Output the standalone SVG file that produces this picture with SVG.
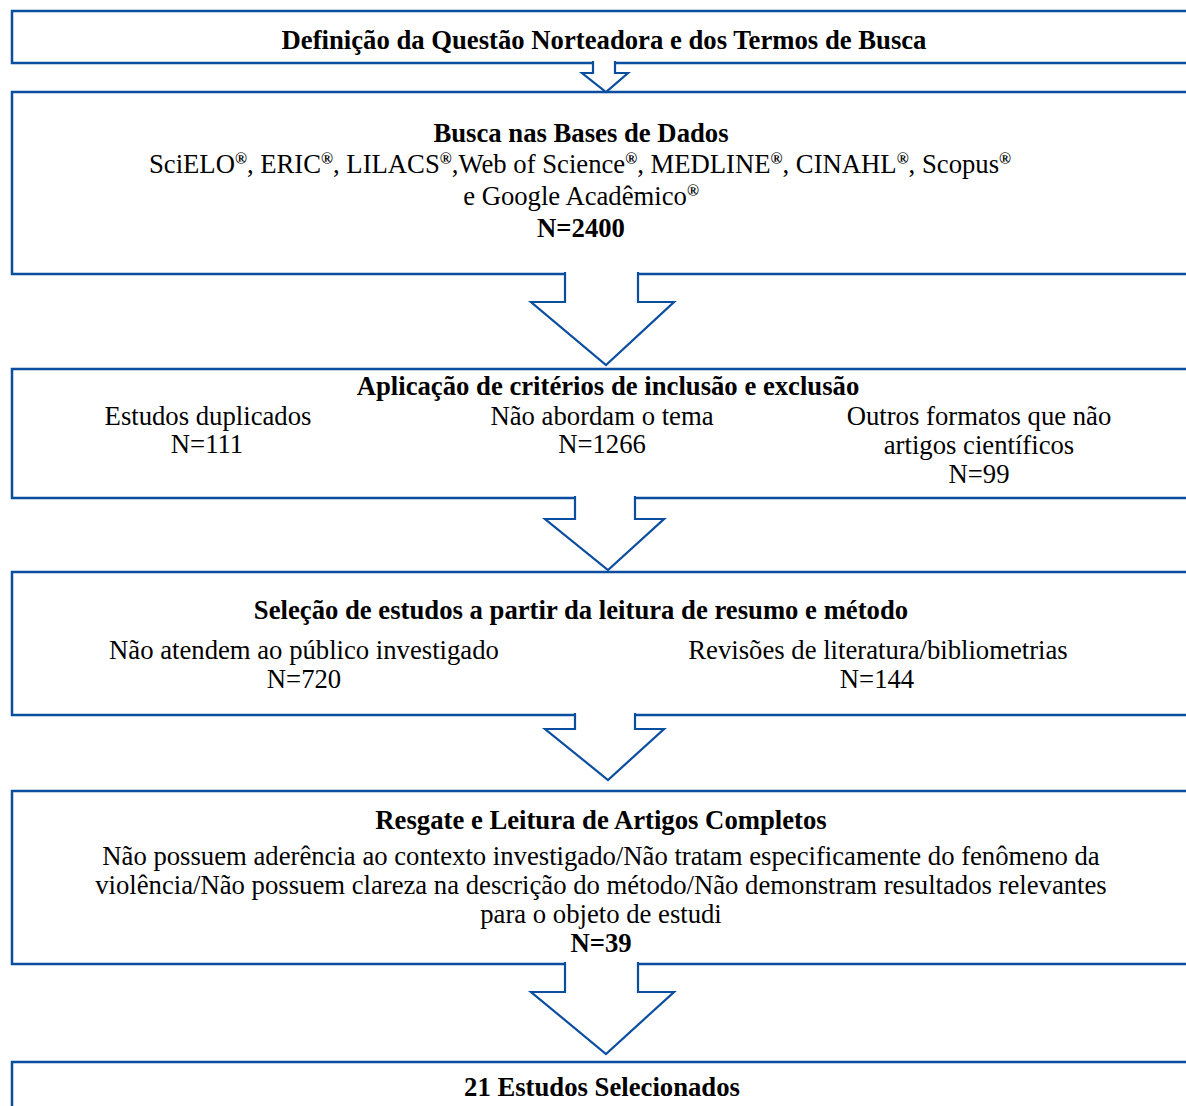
<svg xmlns="http://www.w3.org/2000/svg" width="1186" height="1106" viewBox="0 0 1186 1106">
<style>
.box{fill:#fff;stroke:#0B4EA0;stroke-width:2.5}
.arr{fill:#fff;stroke:#0B4EA0;stroke-width:2.2;stroke-linejoin:miter}
text{font-family:"Liberation Serif","Times New Roman",serif;font-size:26.7px;fill:#000;text-anchor:middle}
.b{font-weight:bold}
.r{font-size:16px;font-weight:bold}
</style>
<rect width="1186" height="1106" fill="#fff"/>
<g id="n1"><rect class="box" x="12" y="11" width="1200" height="52"/>
<text class="b" x="604" y="49">Definição da Questão Norteadora e dos Termos de Busca</text></g>
<g id="n2"><rect class="box" x="12" y="92" width="1200" height="182"/>
<text class="b" x="581" y="142">Busca nas Bases de Dados</text>
<text x="580" y="173">SciELO<tspan class="r" dy="-9">®</tspan><tspan dy="9">, ERIC</tspan><tspan class="r" dy="-9">®</tspan><tspan dy="9">, LILACS</tspan><tspan class="r" dy="-9">®</tspan><tspan dy="9">,Web of Science</tspan><tspan class="r" dy="-9">®</tspan><tspan dy="9">, MEDLINE</tspan><tspan class="r" dy="-9">®</tspan><tspan dy="9">, CINAHL</tspan><tspan class="r" dy="-9">®</tspan><tspan dy="9">, Scopus</tspan><tspan class="r" dy="-9">®</tspan></text>
<text x="581" y="205">e Google Acadêmico<tspan class="r" dy="-9">®</tspan></text>
<text class="b" x="581" y="237">N=2400</text></g>
<g id="n3"><rect class="box" x="12" y="369" width="1200" height="129"/>
<text class="b" x="608" y="395">Aplicação de critérios de inclusão e exclusão</text>
<text x="208" y="425">Estudos duplicados</text>
<text x="207" y="453">N=111</text>
<text x="602" y="425">Não abordam o tema</text>
<text x="602" y="453">N=1266</text>
<text x="979" y="425">Outros formatos que não</text>
<text x="979" y="454">artigos científicos</text>
<text x="979" y="483">N=99</text></g>
<g id="n4"><rect class="box" x="12" y="572" width="1200" height="143"/>
<text class="b" x="581" y="619">Seleção de estudos a partir da leitura de resumo e método</text>
<text x="304" y="659">Não atendem ao público investigado</text>
<text x="304" y="688">N=720</text>
<text x="878" y="659">Revisões de literatura/bibliometrias</text>
<text x="877" y="688">N=144</text></g>
<g id="n5"><rect class="box" x="12" y="791" width="1200" height="173"/>
<text class="b" x="601" y="829">Resgate e Leitura de Artigos Completos</text>
<text x="601" y="865">Não possuem aderência ao contexto investigado/Não tratam especificamente do fenômeno da</text>
<text x="601" y="894">violência/Não possuem clareza na descrição do método/Não demonstram resultados relevantes</text>
<text x="601" y="923">para o objeto de estudi</text>
<text class="b" x="601" y="952">N=39</text></g>
<g id="n6"><rect class="box" x="12" y="1062" width="1200" height="80"/>
<text class="b" x="602" y="1096">21 Estudos Selecionados</text></g>
<g id="connectors">
<path class="arr" d="M593,61 L593,73 L582,73 L606,92 L628,73 L615,73 L615,61"/>
<path class="arr" d="M565,272 L565,302 L531,302 L606,365 L674,302 L638,302 L638,272"/>
<path class="arr" d="M575,496 L575,519 L545,519 L608,570 L664,519 L635,519 L635,496"/>
<path class="arr" d="M575,713 L575,729 L545,729 L608,780 L664,729 L635,729 L635,713"/>
<path class="arr" d="M565,962 L565,992 L531,992 L606,1054 L674,992 L638,992 L638,962"/>
</g>
</svg>
